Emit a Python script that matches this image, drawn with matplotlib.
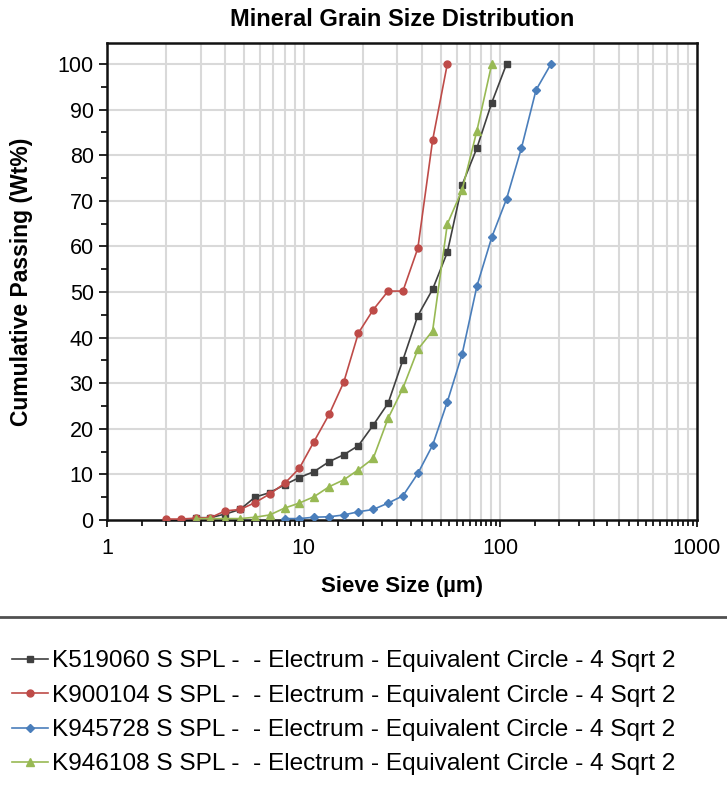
import numpy as np
import matplotlib
matplotlib.use("Agg")
import matplotlib.pyplot as plt
from matplotlib.ticker import FixedLocator, NullFormatter

plt.rcParams['font.family'] = ['Liberation Sans', 'DejaVu Sans']

# sieve sizes (um), 4th root of 2 series
sizes = [2.0, 2.38, 2.83, 3.36, 4.0, 4.76, 5.66, 6.73, 8.0, 9.51, 11.3, 13.5,
         16.0, 19.0, 22.6, 26.9, 32.0, 38.1, 45.3, 53.8, 64.0, 76.1, 90.5,
         107.6, 128.0, 152.0, 181.0]

# cumulative passing (wt%)
k519060_x = sizes[2:24]
k519060_y = [0.5, 0.5, 1.3, 2.3, 5.0, 6.0, 7.7, 9.3, 10.6, 12.8, 14.3, 16.3,
             20.8, 25.6, 35.1, 44.8, 50.6, 58.7, 73.5, 81.6, 91.5, 100]

k900104_x = sizes[0:20]
k900104_y = [0.2, 0.2, 0.4, 0.5, 2.0, 2.3, 3.8, 5.7, 8.0, 11.3, 17.2, 23.2,
             30.2, 41.0, 46.1, 50.2, 50.2, 59.6, 83.3, 100]

k945728_x = sizes[8:27]
k945728_y = [0.3, 0.3, 0.6, 0.7, 1.1, 1.8, 2.3, 3.7, 5.3, 10.2, 16.4, 25.9,
             36.4, 51.3, 62.0, 70.4, 81.5, 94.3, 100]

k946108_x = sizes[2:23]
k946108_y = [0.3, 0.3, 0.3, 0.3, 0.6, 1.1, 2.6, 3.7, 5.1, 7.3, 8.8, 11.0,
             13.5, 22.3, 28.9, 37.4, 41.5, 64.9, 72.4, 85.4, 100]

suffix = " S SPL -  - Electrum - Equivalent Circle - 4 Sqrt 2"
names = ["K519060", "K900104", "K945728", "K946108"]
colors = ["#404040", "#be4b48", "#4a7ebb", "#98b954"]
markers = ["s", "o", "D", "^"]
msizes = [5, 5, 4.5, 6]

fig = plt.figure(figsize=(7.27, 7.97), dpi=100)
ax = fig.add_axes([0.147, 0.3476, 0.8117, 0.5984])

series = [(k519060_x, k519060_y), (k900104_x, k900104_y),
          (k945728_x, k945728_y), (k946108_x, k946108_y)]
for i in range(4):
    xs, ys = series[i]
    ax.plot(xs, ys, color=colors[i], marker=markers[i], markersize=msizes[i],
            linewidth=1.2, label=names[i] + suffix, zorder=3)

ax.set_xscale('log')
ax.set_xlim(1, 1000)
ax.set_ylim(0, 104.6)

# gridlines at 1..9 times each decade
grid_x = [m * 10**d for d in range(3) for m in range(1, 10)]
for gx in grid_x:
    ax.axvline(gx, color='#d9d9d9', linewidth=1.5, zorder=1)
for gy in range(10, 101, 10):
    ax.axhline(gy, color='#d9d9d9', linewidth=1.5, zorder=1)

ax.xaxis.set_major_locator(FixedLocator([1, 10, 100, 1000]))
ax.set_xticklabels(['1', '10', '100', '1000'])
minor_x = [m * 10**d for d in range(3) for m in np.arange(1.5, 10, 0.5)]
ax.xaxis.set_minor_locator(FixedLocator(minor_x))
ax.xaxis.set_minor_formatter(NullFormatter())
ax.set_yticks(range(0, 101, 10))
ax.yaxis.set_minor_locator(FixedLocator(range(5, 101, 10)))

ax.tick_params(axis='both', which='major', direction='out', length=6, width=1.2,
               labelsize=15.5, colors='black')
ax.tick_params(axis='both', which='minor', direction='out', length=4, width=1.2)
ax.tick_params(axis='x', which='major', length=5, pad=8)
for sp in ax.spines.values():
    sp.set_linewidth(1.8)
    sp.set_color('#111111')

ax.set_xlabel('Sieve Size (µm)', fontsize=16, fontweight='bold', labelpad=12)
ax.set_ylabel('Cumulative Passing (Wt%)', fontsize=16.5, fontweight='bold', labelpad=18)
ax.set_title('Mineral Grain Size Distribution', fontsize=17, fontweight='bold', pad=12)

# separator line above legend
fig.add_artist(plt.Line2D([0, 1], [1 - 617 / 797, 1 - 617 / 797],
                          color='#505050', linewidth=2))

handles, labels = ax.get_legend_handles_labels()
fig.legend(handles, labels, loc='upper left', bbox_to_anchor=(0.0165, 0.184),
           frameon=False, fontsize=17.6, handlelength=1.48, handletextpad=0.16,
           labelspacing=0.5, borderaxespad=0, borderpad=0)

fig.savefig('out.png', dpi=100)
